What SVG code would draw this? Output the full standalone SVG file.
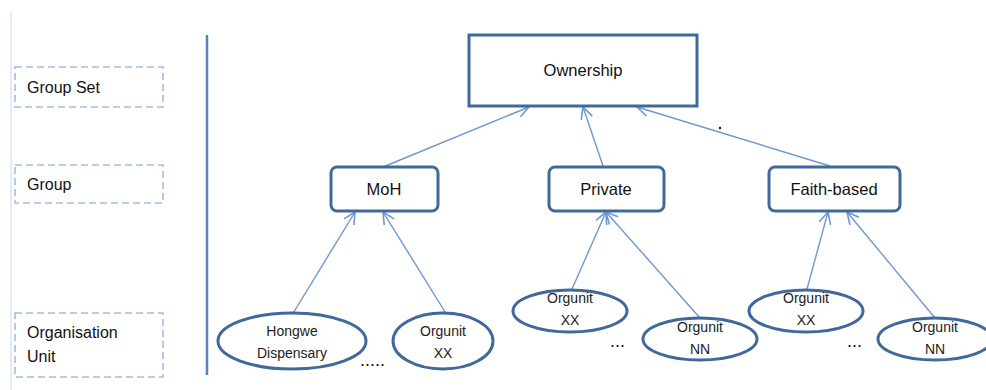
<svg xmlns="http://www.w3.org/2000/svg" width="986" height="390" viewBox="0 0 986 390">
<style>
.lbl{fill:none;stroke:#a3bde3;stroke-width:1.6;stroke-dasharray:7,4}
.lt{font-family:"Liberation Sans",Arial,sans-serif;font-size:16px;fill:#111}
.box{fill:#fff;stroke:#41689b;stroke-width:3}
.nt{font-family:"Liberation Sans",Arial,sans-serif;font-size:16.5px;fill:#111;text-anchor:middle}
.ell{fill:#fff;stroke:#41689b;stroke-width:3}
.et{font-family:"Liberation Sans",Arial,sans-serif;font-size:14px;fill:#222;text-anchor:middle}
.con line{stroke:#6e98cf;stroke-width:1.4;marker-end:url(#arr)}
.dots{font-family:"Liberation Sans",Arial,sans-serif;font-size:18px;fill:#111}
</style>
<defs>
<marker id="arr" markerUnits="userSpaceOnUse" markerWidth="14" markerHeight="14" viewBox="0 0 12 12" refX="11" refY="6" orient="auto">
<path d="M1,1 L11,6 L1,11" fill="none" stroke="#6e98cf" stroke-width="1.4"/>
</marker>
</defs>
<rect width="986" height="390" fill="#fff"/>
<line x1="11" y1="12" x2="11" y2="390" stroke="#c9d8ee" stroke-width="1"/>
<line x1="207" y1="35" x2="207" y2="375" stroke="#5b83b8" stroke-width="2.5"/>

<g id="lbl-groupset"><rect class="lbl" x="15" y="67" width="148" height="40"/><text class="lt" x="27" y="93">Group Set</text></g>
<g id="lbl-group"><rect class="lbl" x="15" y="165" width="148" height="38"/><text class="lt" x="27" y="190">Group</text></g>
<g id="lbl-orgunit"><rect class="lbl" x="15" y="313" width="148" height="64"/><text class="lt" x="27" y="338">Organisation</text><text class="lt" x="27" y="362">Unit</text></g>

<g id="connectors" class="con">
<line x1="383" y1="167" x2="529" y2="107"/>
<line x1="603" y1="166" x2="583" y2="107"/>
<line x1="830" y1="166" x2="637" y2="107"/>
<line x1="292" y1="315" x2="355" y2="212"/>
<line x1="447" y1="315" x2="383" y2="212"/>
<line x1="572" y1="289" x2="606" y2="212"/>
<line x1="700" y1="318" x2="606" y2="212"/>
<line x1="807" y1="289" x2="828" y2="212"/>
<line x1="935" y1="318" x2="847" y2="212"/>
</g>

<g id="ownership"><rect class="box" x="469" y="35" width="228" height="71"/><text class="nt" x="583" y="76">Ownership</text></g>
<g id="moh"><rect class="box" x="331" y="167" width="107" height="44" rx="6"/><text class="nt" x="384" y="195">MoH</text></g>
<g id="private"><rect class="box" x="549" y="167" width="115" height="44" rx="6"/><text class="nt" x="606" y="195">Private</text></g>
<g id="faith"><rect class="box" x="769" y="167" width="131" height="44" rx="6"/><text class="nt" x="834" y="195">Faith-based</text></g>

<g id="hongwe"><ellipse class="ell" cx="292" cy="341" rx="74" ry="28"/><text class="et" x="292" y="336">Hongwe</text><text class="et" x="292" y="358">Dispensary</text></g>
<g id="moh-xx"><ellipse class="ell" cx="443" cy="341" rx="50" ry="28"/><text class="et" x="443" y="336">Orgunit</text><text class="et" x="443" y="358">XX</text></g>
<g id="priv-xx"><ellipse class="ell" cx="570" cy="311" rx="57" ry="21"/><text class="et" x="570" y="303">Orgunit</text><text class="et" x="570" y="325">XX</text></g>
<g id="priv-nn"><ellipse class="ell" cx="700" cy="339" rx="57" ry="21"/><text class="et" x="700" y="332">Orgunit</text><text class="et" x="700" y="354">NN</text></g>
<g id="faith-xx"><ellipse class="ell" cx="806" cy="311" rx="57" ry="21"/><text class="et" x="806" y="303">Orgunit</text><text class="et" x="806" y="325">XX</text></g>
<g id="faith-nn"><ellipse class="ell" cx="935" cy="339" rx="57" ry="21"/><text class="et" x="935" y="332">Orgunit</text><text class="et" x="935" y="354">NN</text></g>

<text class="dots" x="360" y="366">.....</text>
<text class="dots" x="610" y="347">...</text>
<text class="dots" x="847" y="347">...</text>
<circle cx="720" cy="128" r="1.2" fill="#111"/>
</svg>
